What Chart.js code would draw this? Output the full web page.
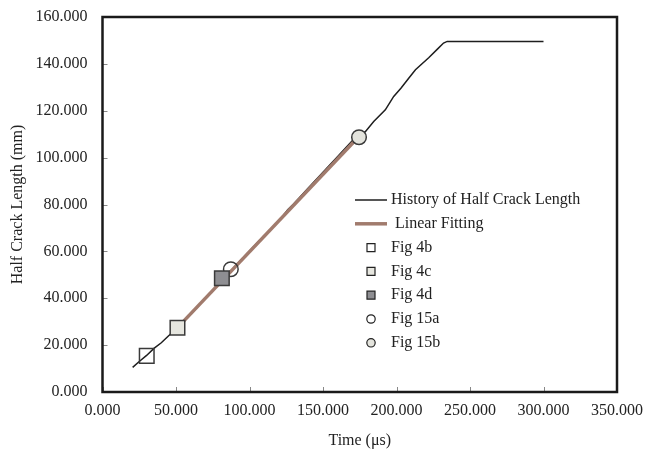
<!DOCTYPE html>
<html>
<head>
<meta charset="utf-8">
<script src="https://cdn.jsdelivr.net/npm/chart.js@4"></script>
<style>
  html, body { margin: 0; padding: 0; background: #fff; }
  #wrap { width: 646px; height: 457px; }
</style>
</head>
<body>
<div id="wrap"><canvas id="crackChart" width="646" height="457"></canvas></div>
<script>
// Half crack length history (time in µs, length in mm)
const historyTime = [20.5, 25, 30, 35, 40, 45, 51, 60, 70, 80, 90, 100, 110, 118, 122, 126, 130, 140, 150, 160, 170, 174.5, 178.8, 184.5, 192.4, 198.1, 203, 208.3, 212.9, 221.9, 228, 232, 234.5, 300];
const historyLength = [10.5, 13, 15.6, 18.6, 21, 24, 27.4, 33.2, 40, 46.7, 53.5, 60.2, 66.8, 71.6, 74.5, 77.8, 80.2, 87, 93.8, 100.5, 107.3, 108.7, 111.1, 115.4, 120.4, 126.1, 129.6, 133.9, 137.5, 142.6, 146.4, 148.9, 149.6, 149.6];

// Linear fitting end points
const fitTime = [52, 172];
const fitLength = [28.1, 107.4];

// Snapshot markers
const markerLabels = ['Fig 4b', 'Fig 4c', 'Fig 4d', 'Fig 15a', 'Fig 15b'];
const markerTime = [30.1, 51.0, 81.2, 87.3, 174.5];
const markerLength = [15.4, 27.4, 48.5, 52.4, 108.7];
const markerShapes = ['rect', 'rect', 'rect', 'circle', 'circle'];
const markerFills = ['rgba(255,255,255,0)', '#e6e6df', '#8e8e92', 'rgba(255,255,255,0)', '#e4e4dd'];

const xTicks = [0, 50, 100, 150, 200, 250, 300, 350];
const yTicks = [0, 20, 40, 60, 80, 100, 120, 140, 160];

const FONT = 'Liberation Serif';
const ctx = document.getElementById('crackChart').getContext('2d');

const datasets = [
  {
    label: 'History of Half Crack Length',
    data: historyTime.map((t, i) => ({ x: t, y: historyLength[i] })),
    borderColor: '#1e1e1e',
    borderWidth: 1.5,
    pointRadius: 0,
    showLine: true,
    tension: 0,
    order: 3
  },
  {
    label: 'Linear Fitting',
    data: fitTime.map((t, i) => ({ x: t, y: fitLength[i] })),
    borderColor: '#a17b6d',
    borderWidth: 3.5,
    pointRadius: 0,
    showLine: true,
    order: 2
  }
];

markerLabels.forEach((name, i) => {
  datasets.push({
    label: name,
    data: [{ x: markerTime[i], y: markerLength[i] }],
    pointStyle: markerShapes[i],
    pointRadius: markerShapes[i] === 'rect' ? 10.3 : 7.3,
    backgroundColor: markerFills[i],
    borderColor: '#3a3a3a',
    borderWidth: 1.5,
    showLine: false,
    order: 1
  });
});

// Frame around the plot area + inward tick marks
const framePlugin = {
  id: 'frame',
  afterDatasetsDraw(chart) {
    const { ctx, chartArea: a, scales } = chart;
    ctx.save();
    ctx.strokeStyle = '#888';
    ctx.lineWidth = 1;
    xTicks.forEach(v => {
      const px = Math.round(scales.x.getPixelForValue(v)) + 0.5;
      ctx.beginPath();
      ctx.moveTo(px, a.bottom);
      ctx.lineTo(px, a.bottom - 5);
      ctx.stroke();
    });
    yTicks.forEach(v => {
      const py = Math.round(scales.y.getPixelForValue(v)) + 0.5;
      ctx.beginPath();
      ctx.moveTo(a.left, py);
      ctx.lineTo(a.left + 5, py);
      ctx.stroke();
    });
    ctx.strokeStyle = '#1a1a1a';
    ctx.lineWidth = 2.5;
    ctx.strokeRect(a.left, a.top, a.right - a.left, a.bottom - a.top);
    ctx.restore();
  }
};

// Legend drawn inside the plot area
const insideLegend = {
  id: 'insideLegend',
  afterDraw(chart) {
    const { ctx } = chart;
    const lineX0 = 355, lineX1 = 387, symX = 371, textX = 391;
    let y = 200;
    const rowGap = 23.8;
    ctx.save();
    ctx.font = '16px "' + FONT + '"';
    ctx.fillStyle = '#222';
    ctx.textBaseline = 'middle';
    chart.data.datasets.forEach((ds, i) => {
      if (i < 2) {
        ctx.strokeStyle = ds.borderColor;
        ctx.lineWidth = ds.borderWidth;
        ctx.beginPath();
        ctx.moveTo(lineX0, y);
        ctx.lineTo(lineX1, y);
        ctx.stroke();
        ctx.fillText(ds.label, i === 0 ? textX : textX + 4, y);
      } else {
        ctx.fillStyle = ds.backgroundColor === 'rgba(255,255,255,0)' ? '#fff' : ds.backgroundColor;
        ctx.strokeStyle = '#222';
        ctx.lineWidth = 1.2;
        ctx.beginPath();
        if (ds.pointStyle === 'rect') {
          ctx.rect(symX - 4, y - 4, 8, 8);
        } else {
          ctx.arc(symX, y, 4.2, 0, Math.PI * 2);
        }
        ctx.fill();
        ctx.stroke();
        ctx.fillStyle = '#222';
        ctx.fillText(ds.label, textX, y);
      }
      y += rowGap;
    });
    ctx.restore();
  }
};

new Chart(ctx, {
  type: 'scatter',
  data: { datasets },
  plugins: [framePlugin, insideLegend],
  options: {
    responsive: false,
    animation: false,
    layout: { padding: { top: 17, right: 29, left: 0, bottom: 0 } },
    plugins: {
      legend: { display: false },
      tooltip: { enabled: false }
    },
    scales: {
      x: {
        type: 'linear',
        min: 0,
        max: 350,
        afterFit: s => { s.height = 65; s.paddingLeft = 0; s.paddingRight = 0; },
        afterBuildTicks: s => { s.ticks = xTicks.map(v => ({ value: v })); },
        grid: { display: false, drawTicks: false },
        border: { display: false },
        ticks: {
          color: '#222',
          padding: 9,
          maxRotation: 0,
          font: { family: FONT, size: 16 },
          callback: v => v.toFixed(3)
        },
        title: {
          display: true,
          text: 'Time (μs)',
          color: '#222',
          padding: { top: 0, bottom: 7 },
          font: { family: FONT, size: 16 }
        }
      },
      y: {
        type: 'linear',
        min: 0,
        max: 160,
        afterFit: s => { s.width = 102.5; s.paddingTop = 0; s.paddingBottom = 0; },
        afterBuildTicks: s => { s.ticks = yTicks.map(v => ({ value: v })); },
        grid: { display: false, drawTicks: false },
        border: { display: false },
        ticks: {
          color: '#222',
          padding: 15,
          font: { family: FONT, size: 16 },
          callback: v => v.toFixed(3)
        },
        title: {
          display: true,
          text: 'Half Crack Length (mm)',
          color: '#222',
          padding: { top: 8, bottom: 0 },
          font: { family: FONT, size: 16 }
        }
      }
    }
  }
});
</script>
</body>
</html>
